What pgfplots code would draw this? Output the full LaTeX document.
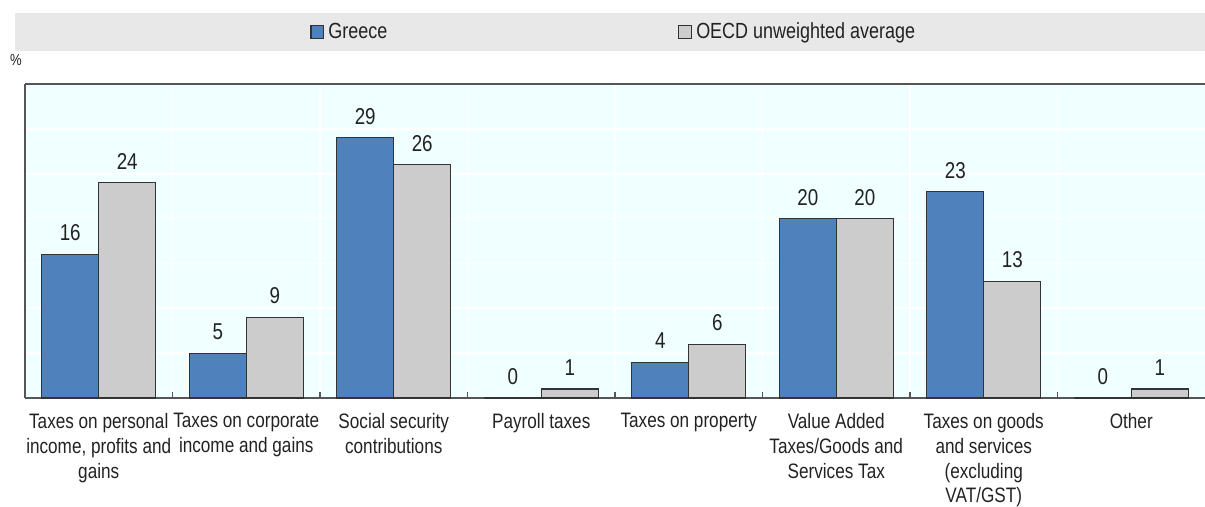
\documentclass[border=0pt]{standalone}
\usepackage{fontspec}
\setmainfont{Liberation Sans}[FakeStretch=0.82]
\usepackage{pgfplots}
\pgfplotsset{compat=1.18}
\usetikzlibrary{calc}

\definecolor{grc}{HTML}{4F81BD}
\definecolor{oecd}{HTML}{CCCCCC}
\definecolor{bgc}{HTML}{F0FFFF}
\definecolor{legbg}{HTML}{E8E8E8}
\definecolor{frame}{HTML}{555555}
\definecolor{txt}{HTML}{222222}

\begin{document}
\begin{tikzpicture}[font=\fontsize{10.5}{12.5}\selectfont, text=txt]
\begin{axis}[
    name=ax,
    scale only axis,
    width=590bp, height=157bp,
    xmin=0.5, xmax=8.5,
    ymin=0, ymax=35,
    ybar=0pt, bar width=28.5bp,
    separate axis lines,
    axis x line*=bottom,
    axis y line*=left,
    axis line style={frame, line width=0.75bp},
    axis background/.style={fill=bgc},
    xtick={1,...,8},
    major tick length=0pt,
    tick style={frame, line width=0.6bp},
    xticklabels={
        {Taxes on personal\\income, profits and\\gains},
        {Taxes on corporate\\income and gains},
        {Social security\\contributions},
        {Payroll taxes},
        {Taxes on property},
        {Value Added\\Taxes/Goods and\\Services Tax},
        {Taxes on goods\\and services\\(excluding\\VAT/GST)},
        {Other}},
    xticklabel style={align=center, font=\fontsize{10.5}{12.5}\selectfont, text=txt, yshift=-4bp},
    extra x ticks={1.5,2.5,...,7.5},
    extra x tick labels={},
    extra x tick style={grid=major, major tick length=3bp, tick align=inside,
        major grid style={white, line width=0.8bp}},
    ytick={5,10,...,30},
    yticklabels={},
    ymajorgrids=true,
    major grid style={white, line width=0.8bp},
    nodes near coords,
    /pgf/number format/assume math mode=true,
    every node near coord/.append style={font=\fontsize{11.5}{13}\selectfont, text=txt, yshift=3bp},
    clip=false,
    legend columns=2,
    legend style={at={(axis description cs:0.2415,1.1656)}, anchor=west,
        draw=none, fill=none, inner sep=0pt,
        font=\fontsize{11}{13}\selectfont,
        /tikz/every even column/.append style={column sep=143.5bp}},
    legend image code/.code={\draw[#1, line width=0.6bp] (0bp,-3.2bp) rectangle (6.4bp,3.2bp);},
]
\fill[legbg] (axis description cs:-0.00847,1.1051) rectangle (axis description cs:1,1.2261);
\node[font=\fontsize{8}{9}\selectfont] at (axis description cs:-0.0076,1.0764) {\%};

\addplot[fill=grc, draw=black!80, line width=0.6bp] coordinates
    {(1,16) (2,5) (3,29) (4,0) (5,4) (6,20) (7,23) (8,0)};
\addplot[fill=oecd, draw=black!80, line width=0.6bp] coordinates
    {(1,24) (2,9) (3,26) (4,1) (5,6) (6,20) (7,13) (8,1)};
\legend{Greece, OECD unweighted average}
\end{axis}
\draw[frame, line width=0.75bp] (ax.north west) -- (ax.north east);
\pgfresetboundingbox
\path[use as bounding box] ($(ax.south west)+(-12.5bp,-54.5bp)$) rectangle ($(ax.north east)+(0bp,42bp)$);
\end{tikzpicture}
\end{document}
